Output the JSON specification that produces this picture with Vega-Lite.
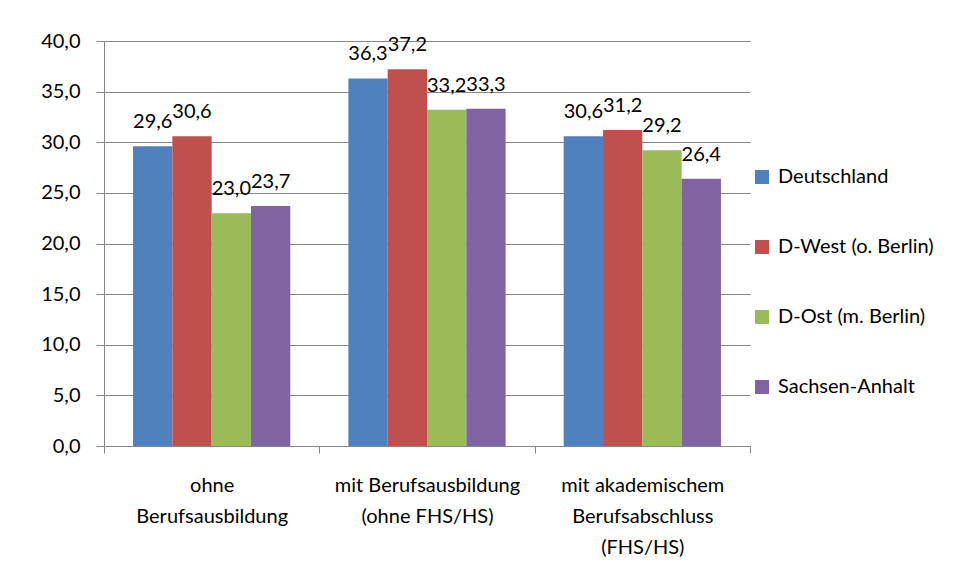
{
  "$schema": "https://vega.github.io/schema/vega-lite/v6.json",
  "width": 646,
  "height": 405,
  "autosize": {"type": "none"},
  "padding": {"left": 104, "top": 41, "right": 205, "bottom": 133},
  "background": "white",
  "config": {
    "locale": {"number": {"decimal": ",", "thousands": ".", "grouping": [3], "currency": ["", " €"]}},
    "font": "Lato",
    "view": {"stroke": null}
  },
  "data": {
    "values": [
      {"kat": "ohne|Berufsausbildung", "region": "Deutschland", "wert": 29.6},
      {"kat": "ohne|Berufsausbildung", "region": "D-West (o. Berlin)", "wert": 30.6},
      {"kat": "ohne|Berufsausbildung", "region": "D-Ost (m. Berlin)", "wert": 23.0},
      {"kat": "ohne|Berufsausbildung", "region": "Sachsen-Anhalt", "wert": 23.7},
      {"kat": "mit Berufsausbildung|(ohne FHS/HS)", "region": "Deutschland", "wert": 36.3},
      {"kat": "mit Berufsausbildung|(ohne FHS/HS)", "region": "D-West (o. Berlin)", "wert": 37.2},
      {"kat": "mit Berufsausbildung|(ohne FHS/HS)", "region": "D-Ost (m. Berlin)", "wert": 33.2},
      {"kat": "mit Berufsausbildung|(ohne FHS/HS)", "region": "Sachsen-Anhalt", "wert": 33.3},
      {"kat": "mit akademischem|Berufsabschluss|(FHS/HS)", "region": "Deutschland", "wert": 30.6},
      {"kat": "mit akademischem|Berufsabschluss|(FHS/HS)", "region": "D-West (o. Berlin)", "wert": 31.2},
      {"kat": "mit akademischem|Berufsabschluss|(FHS/HS)", "region": "D-Ost (m. Berlin)", "wert": 29.2},
      {"kat": "mit akademischem|Berufsabschluss|(FHS/HS)", "region": "Sachsen-Anhalt", "wert": 26.4}
    ]
  },
  "encoding": {
    "x": {
      "field": "kat",
      "type": "nominal",
      "sort": null,
      "scale": {"paddingInner": 0, "paddingOuter": 0},
      "axis": {
        "title": null,
        "labelAngle": 0,
        "labelExpr": "datum.value ? split(datum.value, '|') : ''",
        "labelFont": "Lato",
        "labelFontSize": 20,
        "labelColor": "black",
        "labelLineHeight": 31,
        "labelBaseline": "top",
        "labelPadding": 22,
        "labelLimit": 0,
        "tickBand": "extent",
        "ticks": true,
        "tickSize": 7,
        "tickWidth": 1,
        "tickColor": "#868686",
        "domainColor": "#868686",
        "grid": false
      }
    },
    "xOffset": {"field": "region", "type": "nominal", "sort": null, "scale": {"paddingInner": 0, "paddingOuter": 0.739}},
    "y": {
      "field": "wert",
      "type": "quantitative",
      "scale": {"domain": [0, 40]},
      "axis": {
        "title": null,
        "values": [0, 5, 10, 15, 20, 25, 30, 35, 40],
        "format": ".1f",
        "labelFont": "Lato",
        "labelFontSize": 20,
        "labelColor": "black",
        "labelPadding": 16,
        "tickSize": 8,
        "tickColor": "#868686",
        "domain": true,
        "domainColor": "#868686",
        "gridColor": "#868686",
        "gridOpacity": 1
      }
    }
  },
  "layer": [
    {
      "mark": {"type": "bar"},
      "encoding": {
        "color": {
          "field": "region",
          "type": "nominal",
          "sort": null,
          "scale": {
            "domain": ["Deutschland", "D-West (o. Berlin)", "D-Ost (m. Berlin)", "Sachsen-Anhalt"],
            "range": ["#4F81BD", "#C0504D", "#9BBB59", "#8064A2"]
          },
          "legend": {
            "title": null,
            "orient": "none",
            "legendX": 648,
            "legendY": 126,
            "symbolType": "square",
            "symbolSize": 196,
            "symbolStrokeWidth": 0,
            "symbolOpacity": 1,
            "labelFont": "Lato",
            "labelFontSize": 20,
            "labelColor": "black",
            "labelOffset": 6,
            "rowPadding": 50,
            "padding": 0
          }
        }
      }
    },
    {
      "mark": {"type": "text", "baseline": "alphabetic", "dy": -18, "fontSize": 20, "font": "Lato", "color": "black"},
      "encoding": {
        "text": {"field": "wert", "type": "quantitative", "format": ".1f"}
      }
    }
  ]
}
